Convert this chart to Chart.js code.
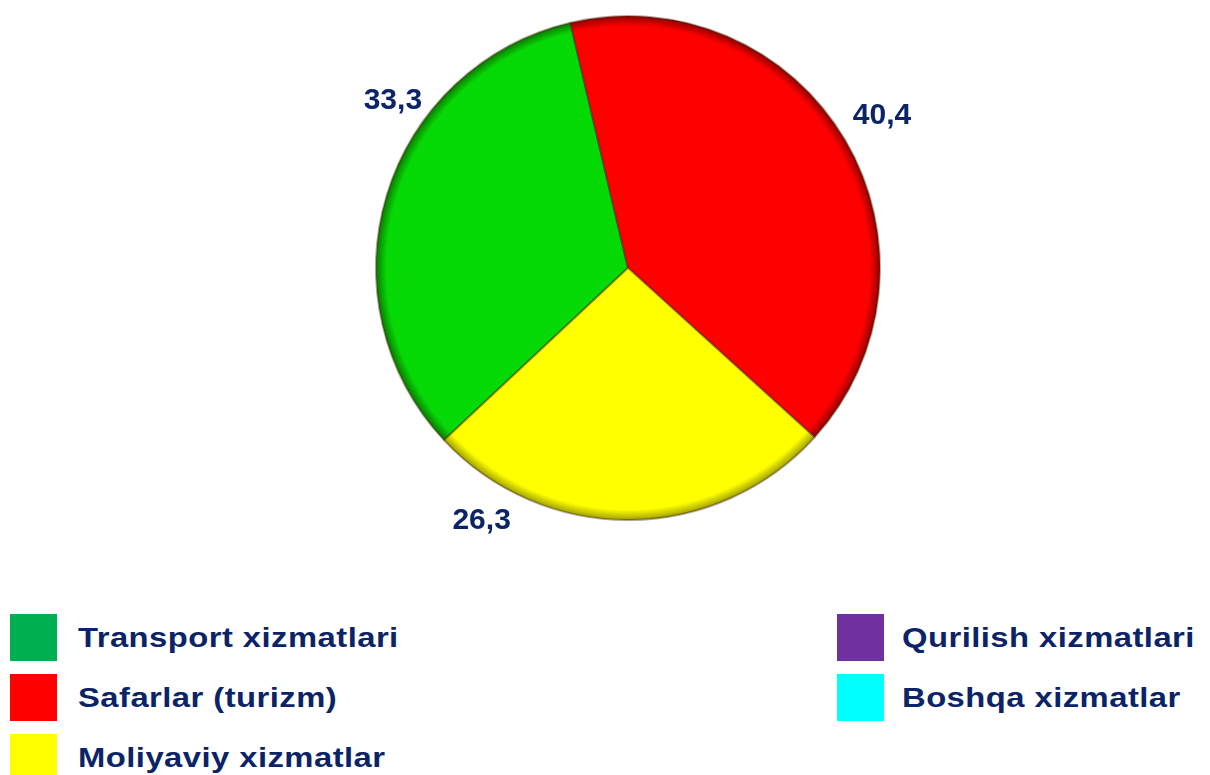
<!DOCTYPE html>
<html>
<head>
<meta charset="utf-8">
<script src="https://cdn.jsdelivr.net/npm/chart.js@4.4.1/dist/chart.umd.min.js"></script>
<style>
    body { margin: 0; background: #fff; width: 1210px; height: 775px; overflow: hidden; position: relative; font-family: "Liberation Sans", Arial, sans-serif; }
    #wrap { position: absolute; left: 0; top: 0; width: 1210px; height: 560px; }
    .leg { position: absolute; display: flex; align-items: center; font-weight: bold; font-size: 28px; letter-spacing: 0.4px; color: #0b2468; white-space: nowrap; }
    .leg span.box { display: inline-block; width: 47px; height: 47px; }
    .leg span.txt { display: inline-block; transform: scaleX(1.17); transform-origin: left center; }
</style>
</head>
<body>
<div id="wrap"><canvas id="mycanvas"></canvas></div>
<div id="legend"></div>
<script>
// Data
var categories = ["Transport xizmatlari", "Safarlar (turizm)", "Moliyaviy xizmatlar", "Qurilish xizmatlari", "Boshqa xizmatlar"];
var shares = [33.3, 40.4, 26.3, 0, 0];
var shareLabels = ["33,3", "40,4", "26,3", "", ""];

// Colours
var pieColors = ["#06da06", "#ff0000", "#ffff00", "#7030a0", "#00ffff"];
var edgeColors = ["#0a7000", "#880000", "#989800", "#3a1060", "#008888"];
var legendColors = ["#00b050", "#ff0000", "#ffff00", "#7030a0", "#00ffff"];

// where the value label sits along each slice (fraction of arc, radius factor)
var labelPos = [[0.655, 1.145], [0.497, 1.175], [0.822, 1.16], [0.5, 1.1], [0.5, 1.1]];

function sliceFill(context) {
    var chart = context.chart;
    var area = chart.chartArea;
    if (!area) return pieColors[context.dataIndex];
    var cx = (area.left + area.right) / 2;
    var cy = (area.top + area.bottom) / 2;
    var r = Math.min(area.right - area.left, area.bottom - area.top) / 2;
    var g = chart.ctx.createRadialGradient(cx, cy, 0, cx, cy, r);
    var i = context.dataIndex;
    g.addColorStop(0, pieColors[i]);
    g.addColorStop(0.9, pieColors[i]);
    g.addColorStop(0.955, pieColors[i]);
    g.addColorStop(1, edgeColors[i]);
    return g;
}

var valueLabels = {
    id: "valueLabels",
    afterDatasetsDraw: function(chart) {
        var ctx = chart.ctx;
        var meta = chart.getDatasetMeta(0);
        ctx.save();
        ctx.font = "bold 30px 'Liberation Sans', Arial, sans-serif";
        ctx.fillStyle = "#0b2468";
        ctx.textAlign = "center";
        ctx.textBaseline = "middle";
        meta.data.forEach(function(arc, i) {
            if (!shareLabels[i]) return;
            var p = arc.getProps(["x", "y", "startAngle", "endAngle", "outerRadius"], true);
            var a = p.startAngle + labelPos[i][0] * (p.endAngle - p.startAngle);
            var rr = p.outerRadius * labelPos[i][1];
            ctx.fillText(shareLabels[i], p.x + rr * Math.cos(a), p.y + rr * Math.sin(a));
        });
        ctx.restore();
    }
};

var ctx = document.getElementById("mycanvas");
var pieChart = new Chart(ctx, {
    type: "pie",
    data: {
        labels: categories,
        datasets: [{
            data: shares,
            backgroundColor: sliceFill,
            borderColor: "rgba(60, 30, 0, 0.4)",
            borderWidth: 2
        }]
    },
    options: {
        responsive: true,
        maintainAspectRatio: false,
        animation: false,
        rotation: 226.9,
        layout: { padding: { left: 375, right: 329, top: 15, bottom: 39 } },
        plugins: {
            legend: { display: false },
            tooltip: { enabled: false }
        }
    },
    plugins: [valueLabels]
});

// Legend (two columns)
var legendSlots = [[10, 614], [10, 674], [10, 734], [837, 614], [837, 674]];
var legendBox = document.getElementById("legend");
categories.forEach(function(name, i) {
    var item = document.createElement("div");
    item.className = "leg";
    item.style.left = legendSlots[i][0] + "px";
    item.style.top = legendSlots[i][1] + "px";
    var gap = legendSlots[i][0] > 500 ? 18 : 21;
    item.innerHTML = '<span class="box" style="margin-right:' + gap + 'px;background:' + legendColors[i] + '"></span>' +
        '<span class="txt">' + name + '</span>';
    legendBox.appendChild(item);
});
</script>
</body>
</html>
